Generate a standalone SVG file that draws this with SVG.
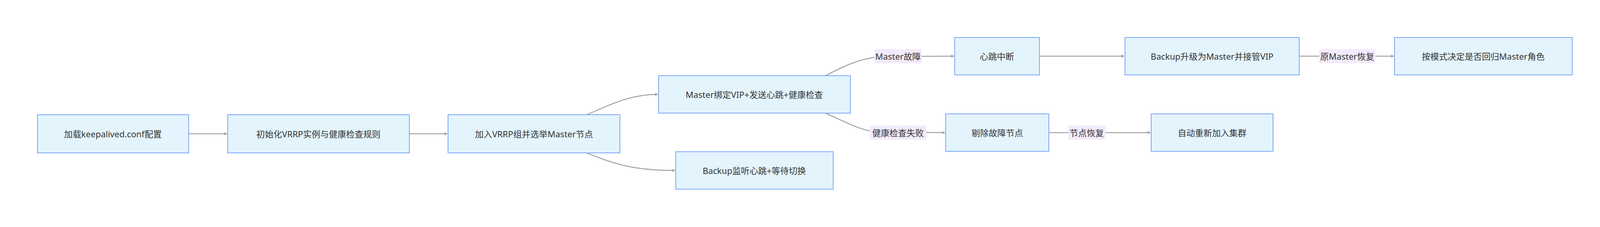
<svg xmlns="http://www.w3.org/2000/svg" width="4121" height="582" viewBox="0 0 4121 582">
<style>
.n rect{fill:#e3f4fd;stroke:#7aa6f6;stroke-width:2}
text{font-family:"Noto Sans","Noto Sans CJK SC",sans-serif;font-size:22px;fill:#333;text-anchor:middle;dominant-baseline:central}
.e path{fill:none;stroke:#a3a3a3;stroke-width:2.5;marker-end:url(#a)}
.l rect{fill:#f2eafc}
</style>
<defs><marker id="a" viewBox="0 0 10 10" refX="9" refY="5" markerWidth="8" markerHeight="8" orient="auto" markerUnits="userSpaceOnUse"><path d="M0,0L10,5L0,10z" fill="#a3a3a3" transform="scale(1)"/></marker></defs>
<g class="e">
<path d="M483,343H581"/>
<path d="M1048,343H1145"/>
<path d="M1502,294C1560,270 1610,242 1684,242"/>
<path d="M1502,392C1560,415 1610,437 1728,437"/>
<path d="M2113,194C2160,170 2200,150 2250,146C2330,144 2400,144 2442,144"/>
<path d="M2113,290C2160,310 2200,335 2250,339C2330,340 2380,340 2419,340"/>
<path d="M2661,144H2878"/>
<path d="M2685,340H2945"/>
<path d="M3326,144H3568"/>
</g>
<g class="l">
<rect x="2239" y="126" width="120" height="36"/><text x="2299" y="144">Master故障</text>
<rect x="2227" y="322" width="144" height="36"/><text x="2299" y="340">健康检查失败</text>
<rect x="2735" y="322" width="95" height="36"/><text x="2782" y="340">节点恢复</text>
<rect x="3377" y="126" width="144" height="36"/><text x="3449" y="144">原Master恢复</text>
</g>
<g id="n1" class="n"><rect x="96" y="294" width="387" height="98"/><text x="289" y="343">加载keepalived.conf配置</text></g>
<g id="n2" class="n"><rect x="583" y="294" width="465" height="98"/><text x="815" y="343">初始化VRRP实例与健康检查规则</text></g>
<g id="n3" class="n"><rect x="1147" y="294" width="440" height="98"/><text x="1367" y="343">加入VRRP组并选举Master节点</text></g>
<g id="n4" class="n"><rect x="1686" y="194" width="491" height="96"/><text x="1931" y="242">Master绑定VIP+发送心跳+健康检查</text></g>
<g id="n5" class="n"><rect x="1730" y="389" width="403" height="96"/><text x="1931" y="437">Backup监听心跳+等待切换</text></g>
<g id="n6" class="n"><rect x="2444" y="96" width="217" height="96"/><text x="2552" y="144">心跳中断</text></g>
<g id="n7" class="n"><rect x="2421" y="292" width="264" height="96"/><text x="2553" y="340">剔除故障节点</text></g>
<g id="n8" class="n"><rect x="2880" y="96" width="446" height="96"/><text x="3103" y="144">Backup升级为Master并接管VIP</text></g>
<g id="n9" class="n"><rect x="3570" y="96" width="455" height="96"/><text x="3797" y="144">按模式决定是否回归Master角色</text></g>
<g id="n10" class="n"><rect x="2947" y="292" width="312" height="96"/><text x="3103" y="340">自动重新加入集群</text></g>
</svg>
